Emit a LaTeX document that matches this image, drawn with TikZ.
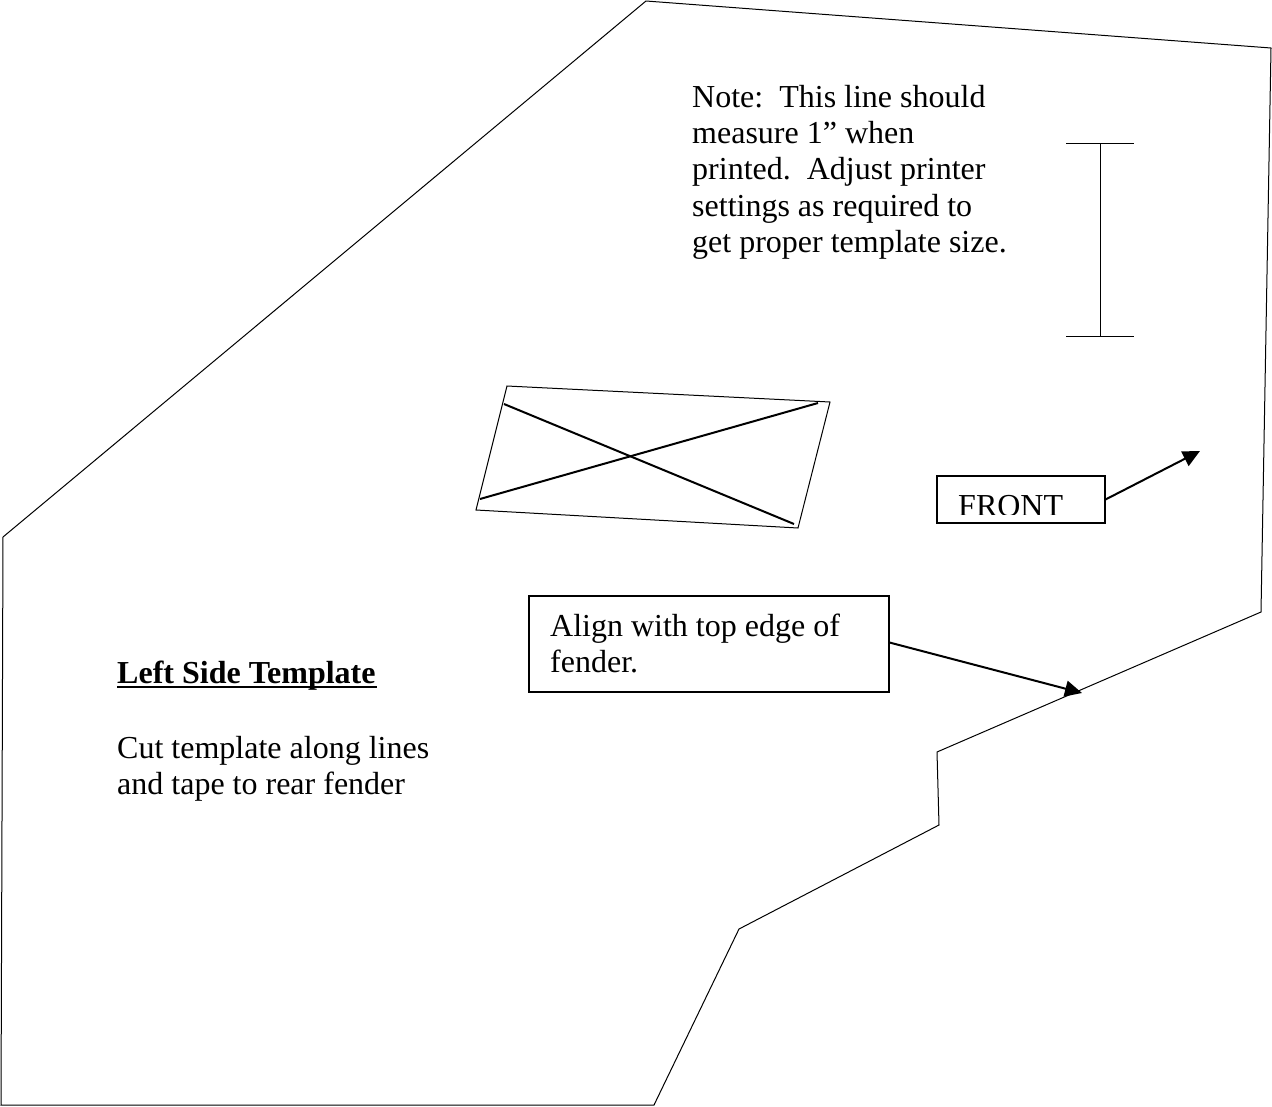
\documentclass[tikz,border=0pt]{standalone}
\usepackage{fontspec}
\setmainfont{Liberation Serif}
\usetikzlibrary{arrows.meta}
\tikzset{
  thin line/.style={draw=black,line width=1pt},
  box/.style={draw=black,line width=2pt,fill=white},
  lead/.style={draw=black,line width=2pt,-{Triangle[length=17pt,width=16pt]}},
  cross/.style={draw=black,line width=2pt},
  txt/.style={anchor=north west,inner sep=0pt,align=left,font=\fontsize{32pt}{36.2pt}\selectfont}
}
\begin{document}
\begin{tikzpicture}[x=1pt,y=-1pt]
\useasboundingbox (0,0) rectangle (1272,1106);
% outline
\draw[thin line] (646,1) -- (1271,48) -- (1261,612) -- (937,752) -- (939,825) -- (739,929) -- (654,1105) -- (1,1105) -- (3,537) -- cycle;
\draw[thin line] (654,1105) -- (654,1103);
% note
\node[txt] (note) at (692,85) {Note:\ \ This line should\\measure 1” when\\printed.\ \ Adjust printer\\settings as required to\\get proper template size.};
% I-bar
\coordinate (bartop) at (1100,143);
\coordinate (barbot) at (1100,336);
\coordinate (tl) at (1066,143);
\coordinate (tr) at (1134,143);
\coordinate (bl) at (1066,336);
\coordinate (br) at (1134,336);
\draw[thin line] (tl) -- (tr);
\draw[thin line] (bl) -- (br);
\draw[thin line] (bartop) -- (barbot);
% crossed quad
\coordinate (qa) at (507,386);
\coordinate (qb) at (830,402);
\coordinate (qc) at (798,528);
\coordinate (qd) at (476,510);
\draw[thin line] (qa) -- (qb) -- (qc) -- (qd) -- cycle;
\coordinate (xa) at (504,404);
\coordinate (xb) at (794,524);
\coordinate (xc) at (480,499);
\coordinate (xd) at (818,403);
\draw[cross] (xa) -- (xb);
\draw[cross] (xc) -- (xd);
% FRONT
\node[box,minimum width=168pt,minimum height=47pt,inner sep=0pt,anchor=north west] (frontbox) at (935.5,475) {};
\begin{scope}
\clip (938,477) rectangle (1104,514);
\node[txt] (front) at (958,495) {FRONT};
\end{scope}
\coordinate (fronttip) at (1200,451);
\draw[lead] (frontbox.east) -- (fronttip);
% Align
\node[box,minimum width=360pt,minimum height=96pt,inner sep=0pt,anchor=north west] (alignbox) at (527.5,594.5) {};
\node[txt] (align) at (550,614) {Align with top edge of\\fender.};
\coordinate (aligntip) at (1082,693);
\draw[lead] (alignbox.east) ++(0,-1) -- (aligntip);
% left text
\node[txt,font=\fontsize{32pt}{36.2pt}\selectfont\bfseries] (title) at (117,661) {Left Side Template};
\coordinate (ula) at (117,687);
\coordinate (ulb) at (377,687);
\draw[draw=black,line width=2.5pt] (ula) -- (ulb);
\node[txt] (cut) at (117,736) {Cut template along lines\\and tape to rear fender};
\end{tikzpicture}
\end{document}
